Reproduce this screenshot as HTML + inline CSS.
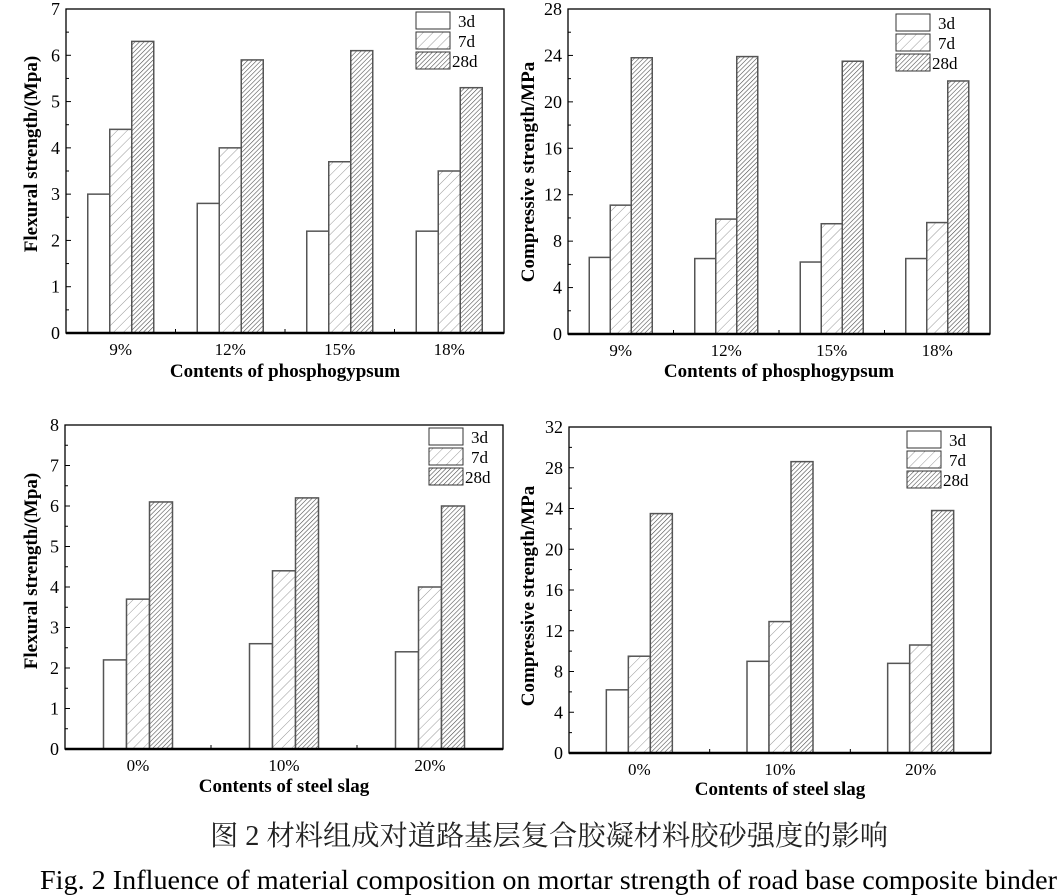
<!DOCTYPE html>
<html><head><meta charset="utf-8"><style>
html,body{margin:0;padding:0;background:#fff;}
svg{display:block;}
text{font-family:"Liberation Serif","Noto Serif CJK SC",serif;fill:#000;}
</style></head><body>
<svg id="s" width="1062" height="895" viewBox="0 0 1062 895" xmlns="http://www.w3.org/2000/svg">
<defs>
<pattern id="h7" patternUnits="userSpaceOnUse" width="7" height="7" patternTransform="rotate(45)">
<rect width="7" height="7" fill="#fff"/><line x1="0" y1="0" x2="0" y2="7" stroke="#999" stroke-width="1"/></pattern>
<pattern id="h28" patternUnits="userSpaceOnUse" width="3.2" height="3.2" patternTransform="rotate(45)">
<rect width="3.2" height="3.2" fill="#fff"/><line x1="0" y1="0" x2="0" y2="3.2" stroke="#444" stroke-width="1.1"/></pattern>
</defs>
<g id="g"></g>
<text x="549" y="845" font-size="28" text-anchor="middle" textLength="678" lengthAdjust="spacingAndGlyphs" style="fill:#222">图 2  材料组成对道路基层复合胶凝材料胶砂强度的影响</text>
<text x="40" y="889" font-size="27" textLength="1017" lengthAdjust="spacingAndGlyphs">Fig. 2 Influence of material composition on mortar strength of road base composite binder</text>
</svg>
<script>
var g=document.getElementById('g'),out='';
function chart(c){
 var L=c.x0,R=c.x1,T=c.y0,B=c.y1,n=c.cats.length,gw=(R-L)/n;
 var sc=function(v){return B-(B-T)*v/c.max;};
 for(var i=0;i<n;i++){
  var cx=L+gw*(i+0.5),x=cx-1.5*c.bw;
  var fills=['#fff','url(#h7)','url(#h28)'];
  for(var k=0;k<3;k++){
   var v=c.data[k][i],y=sc(v);
   out+='<rect x="'+(x+k*c.bw)+'" y="'+y+'" width="'+c.bw+'" height="'+(B-y)+'" fill="'+fills[k]+'" stroke="#555" stroke-width="1.5"/>';
  }
  out+='<text x="'+cx+'" y="'+(B+22)+'" font-size="17" text-anchor="middle">'+c.cats[i]+'</text>';
  if(i>0) out+='<line x1="'+(L+gw*i)+'" y1="'+B+'" x2="'+(L+gw*i)+'" y2="'+(B-4)+'" stroke="#000"/>';
 }
 var nt=c.max/c.step;
 for(var j=0;j<=nt;j++){
  var y=sc(j*c.step);
  out+='<line x1="'+L+'" y1="'+y+'" x2="'+(L+5)+'" y2="'+y+'" stroke="#000"/>';
  out+='<text x="'+(L-6)+'" y="'+(y+6)+'" font-size="18" text-anchor="end">'+(j*c.step)+'</text>';
  if(j<nt){var ym=sc((j+0.5)*c.step);out+='<line x1="'+L+'" y1="'+ym+'" x2="'+(L+3)+'" y2="'+ym+'" stroke="#000"/>';}
 }
 out+='<rect x="'+L+'" y="'+T+'" width="'+(R-L)+'" height="'+(B-T)+'" fill="none" stroke="#000" stroke-width="1.3"/>';
 out+='<line x1="'+L+'" y1="'+B+'" x2="'+R+'" y2="'+B+'" stroke="#000" stroke-width="2.5"/>';
 var lf=['#fff','url(#h7)','url(#h28)'],lb=['3d','7d','28d'];
 for(var k=0;k<3;k++){
  var ly=c.ly+k*20;
  out+='<rect x="'+c.lx+'" y="'+ly+'" width="34" height="17" fill="'+lf[k]+'" stroke="#333" stroke-width="1"/>';
  out+='<text x="'+(c.lx+(k==2?36:42))+'" y="'+(ly+15)+'" font-size="17">'+lb[k]+'</text>';
 }
 out+='<text x="'+((L+R)/2)+'" y="'+c.xty+'" font-size="19" font-weight="bold" text-anchor="middle">'+c.xt+'</text>';
 out+='<text transform="translate('+c.ytx+','+c.yty+') rotate(-90)" font-size="19" font-weight="bold" text-anchor="middle">'+c.yt+'</text>';
}
chart({x0:66,x1:504,y0:9,y1:333,max:7,step:1,bw:22,cats:['9%','12%','15%','18%'],
 data:[[3,2.8,2.2,2.2],[4.4,4,3.7,3.5],[6.3,5.9,6.1,5.3]],lx:416,ly:12,xt:'Contents of phosphogypsum',xty:377,yt:'Flexural strength/(Mpa)',ytx:37,yty:154});
chart({x0:568,x1:990,y0:9,y1:334,max:28,step:4,bw:21,cats:['9%','12%','15%','18%'],
 data:[[6.6,6.5,6.2,6.5],[11.1,9.9,9.5,9.6],[23.8,23.9,23.5,21.8]],lx:896,ly:14,xt:'Contents of phosphogypsum',xty:377,yt:'Compressive strength/MPa',ytx:534,yty:172});
chart({x0:65,x1:503,y0:425,y1:749,max:8,step:1,bw:23,cats:['0%','10%','20%'],
 data:[[2.2,2.6,2.4],[3.7,4.4,4],[6.1,6.2,6]],lx:429,ly:428,xt:'Contents of steel slag',xty:792,yt:'Flexural strength/(Mpa)',ytx:37,yty:571});
chart({x0:569,x1:991,y0:427,y1:753,max:32,step:4,bw:22,cats:['0%','10%','20%'],
 data:[[6.2,9,8.8],[9.5,12.9,10.6],[23.5,28.6,23.8]],lx:907,ly:431,xt:'Contents of steel slag',xty:795,yt:'Compressive strength/MPa',ytx:534,yty:596});
g.innerHTML=out;
</script>
</body></html>
